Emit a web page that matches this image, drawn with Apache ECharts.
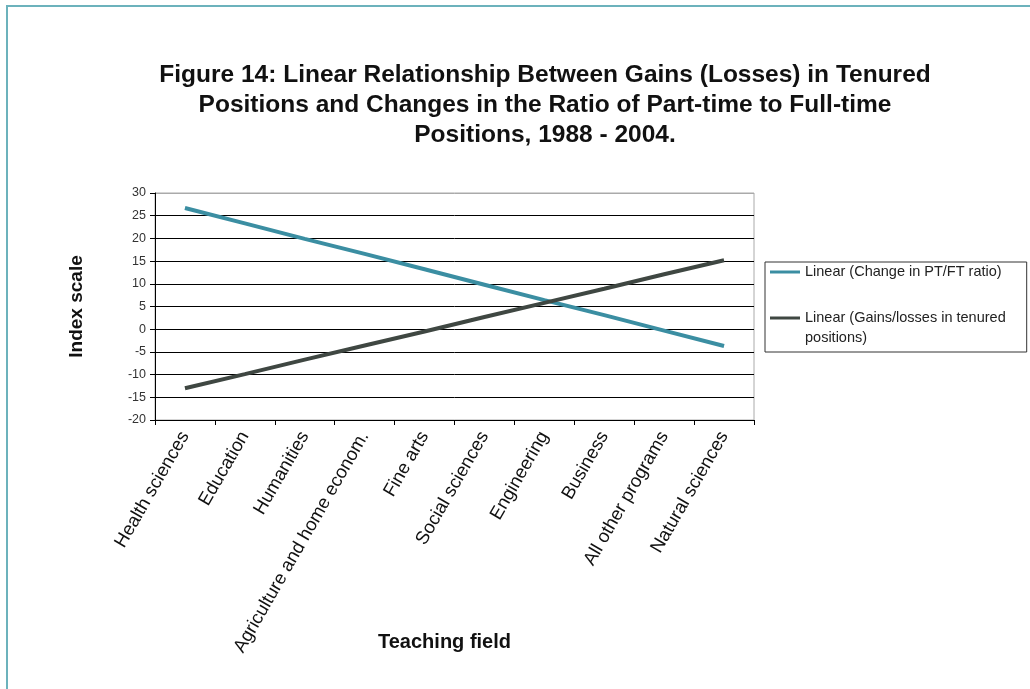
<!DOCTYPE html>
<html>
<head>
<meta charset="utf-8">
<script src="https://cdn.jsdelivr.net/npm/echarts@6/dist/echarts.min.js"></script>
<style>
html,body{margin:0;padding:0;background:#fff;}
#chart{width:1030px;height:689px;}
</style>
</head>
<body>
<div id="chart"></div>
<script>
const categories = ['Health sciences','Education','Humanities','Agriculture and home econom.','Fine arts','Social sciences','Engineering','Business','All other programs','Natural sciences'];
const ptftRatio = [26.7, 23.3, 19.9, 16.6, 13.2, 9.8, 6.4, 3.1, -0.3, -3.7];
const tenuredGains = [-13.0, -9.9, -6.7, -3.6, -0.5, 2.7, 5.8, 8.9, 12.1, 15.2];
const seriesNames = ['Linear (Change in PT/FT ratio)', 'Linear (Gains/losses in tenured\npositions)'];
const yTicks = {min: -20, max: 30, step: 5};

const sans = '"Liberation Sans",Arial,sans-serif';
const chart = echarts.init(document.getElementById('chart'));
const splitColors = [];
for (let v = yTicks.min; v <= yTicks.max; v += yTicks.step) splitColors.push(v === yTicks.max ? '#aaaaaa' : '#000000');

chart.setOption({
  animation: false,
  backgroundColor: '#ffffff',
  title: {
    text: 'Figure 14: Linear Relationship Between Gains (Losses) in Tenured\nPositions and Changes in the Ratio of Part-time to Full-time\nPositions, 1988 - 2004.',
    left: 540, top: 55, textAlign: 'center',
    textStyle: {fontFamily: sans, fontWeight: 'bold', fontSize: 24.5, lineHeight: 30, color: '#111'}
  },
  graphic: [
    {type: 'line', shape: {x1: 6, y1: 6, x2: 1030, y2: 6}, style: {stroke: '#6cb2bc', lineWidth: 2}},
    {type: 'line', shape: {x1: 7, y1: 6, x2: 7, y2: 689}, style: {stroke: '#6cb2bc', lineWidth: 2}}
  ],
  legend: {
    orient: 'vertical', left: 765, top: 262,
    borderColor: '#333', borderWidth: 1,
    padding: [0, 21, 4, 5],
    itemGap: 6,
    itemWidth: 30, itemHeight: 3, icon: 'rect',
    textStyle: {fontFamily: sans, fontSize: 14.5, color: '#222', lineHeight: 20},
    formatter: function (name) { return name.indexOf('\n') >= 0 ? '\n' + name : name; },
    data: seriesNames
  },
  grid: {left: 155, right: 276, top: 193, bottom: 269, show: true, borderColor: '#aaaaaa', borderWidth: 1},
  xAxis: {
    type: 'category', data: categories, boundaryGap: true,
    name: 'Teaching field', nameLocation: 'middle', nameGap: 212, nameMoveOverlap: false,
    nameTextStyle: {fontFamily: sans, fontWeight: 'bold', fontSize: 20, color: '#111', padding: [0, 20, 0, 0]},
    axisLine: {show: true, onZero: false, lineStyle: {color: '#000', width: 1}},
    axisTick: {show: true, interval: 0, length: 5, lineStyle: {color: '#000'}},
    axisLabel: {interval: 0, rotate: 60, margin: 13, fontFamily: sans, fontSize: 18.5, color: '#111'},
    splitLine: {show: false}
  },
  yAxis: {
    type: 'value', min: yTicks.min, max: yTicks.max, interval: yTicks.step,
    name: 'Index scale', nameLocation: 'middle', nameGap: 69, nameRotate: 90,
    nameTextStyle: {fontFamily: sans, fontWeight: 'bold', fontSize: 19, color: '#111'},
    axisLine: {show: true, lineStyle: {color: '#000', width: 1}},
    axisTick: {show: true, length: 5, lineStyle: {color: '#000'}},
    axisLabel: {margin: 9, fontFamily: sans, fontSize: 12.5, color: '#333'},
    splitLine: {show: true, lineStyle: {color: splitColors, width: 1}}
  },
  series: [
    {name: seriesNames[0], type: 'line', data: ptftRatio, showSymbol: false, symbol: 'none',
     lineStyle: {color: '#3b8ea2', width: 4}, itemStyle: {color: '#3b8ea2'}},
    {name: seriesNames[1], type: 'line', data: tenuredGains, showSymbol: false, symbol: 'none',
     lineStyle: {color: '#3f4742', width: 4}, itemStyle: {color: '#3f4742'}}
  ]
});
</script>
</body>
</html>
